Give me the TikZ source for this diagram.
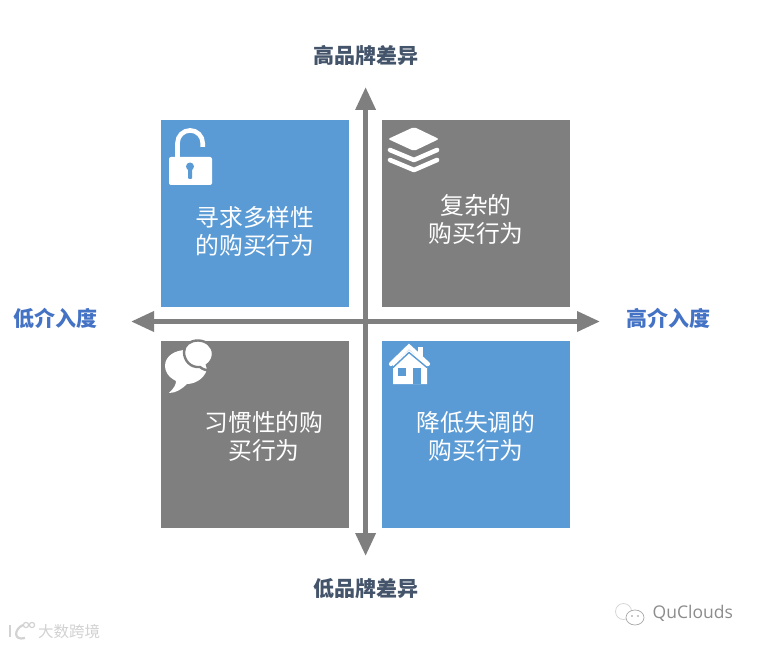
\documentclass[tikz,border=0pt]{standalone}
\usepackage{fontspec}
\setmainfont{Noto Sans CJK SC}
\newfontfamily\latinlight{Open Sans}
\usetikzlibrary{arrows.meta}
\definecolor{qblue}{HTML}{5B9BD5}
\definecolor{qgray}{HTML}{7F7F7F}
\definecolor{qslate}{HTML}{44546A}
\definecolor{qside}{HTML}{4472C4}
\definecolor{qmark}{HTML}{D2D2D2}
\tikzset{
  x=1pt,y=-1pt,
  panel/.style={minimum width=188pt,minimum height=187pt,inner sep=0pt,outer sep=0pt,anchor=north west},
  panelblue/.style={panel,fill=qblue},
  panelgray/.style={panel,fill=qgray},
  paneltext/.style={text=white,font=\fontsize{23.8}{28}\selectfont,align=center,inner sep=0pt},
  axislabel/.style={font=\fontsize{21}{24}\selectfont\bfseries,inner sep=0pt},
  axisline/.style={draw=qgray,line width=5pt,{Triangle[length=23pt,width=19.5pt]}-{Triangle[length=23pt,width=19.5pt]}},
}
\begin{document}
\begin{tikzpicture}
\useasboundingbox (0,0) rectangle (757,647);
\fill[white] (0,0) rectangle (757,647);
% panels
\node[panelblue] (tl) at (161,120) {};
\node[panelgray] (tr) at (382,120) {};
\node[panelgray] (bl) at (161,341) {};
\node[panelblue] (br) at (382,341) {};
% axes
\coordinate (ntop) at (365.6,87);
\coordinate (nbot) at (365.6,556);
\coordinate (nleft) at (131,321.5);
\coordinate (nright) at (600,321.5);
\draw[axisline] (nleft) -- (nright);
\draw[axisline] (ntop) -- (nbot);
% panel text
\node[paneltext] (ttl) at (255,231) {寻求多样性\\的购买行为};
\node[paneltext] (ttr) at (476,219) {复杂的\\购买行为};
\node[paneltext] (tbl) at (264,436) {习惯性的购\\买行为};
\node[paneltext] (tbr) at (476,436) {降低失调的\\购买行为};
% axis labels
\node[axislabel,text=qslate] (ltop) at (365.5,55) {高品牌差异};
\node[axislabel,text=qslate] (lbot) at (365.5,589) {低品牌差异};
\node[axislabel,text=qside] (lleft) at (55,318) {低介入度};
\node[axislabel,text=qside] (lright) at (668,318) {高介入度};
% lock
\draw[white,line width=4.6pt] (177.5,158) -- (177.5,143) arc[start angle=180,end angle=360,radius=12.6] -- (202.7,147);
\fill[white,rounded corners=2pt] (169,157) rectangle (212,185);
\fill[qblue] (190,166.5) circle (4);
\fill[qblue,rounded corners=1pt] (188,167) rectangle (192,179);
% layers
\fill[white,rounded corners=2pt] (388,139) -- (414,127) -- (439,139) -- (414,151) -- cycle;
\draw[white,line width=4.6pt,line cap=round,line join=round] (390,150) -- (414,160) -- (437,150);
\draw[white,line width=4.6pt,line cap=round,line join=round] (390,160) -- (414,170) -- (437,160);
% speech bubbles
\fill[white] (169,393) .. controls (174,388) and (176,385) .. (176,381) .. controls (168,377) and (165,371) .. (165,366) .. controls (165,356) and (175,350) .. (186,350) .. controls (199,350) and (207,358) .. (207,367) .. controls (207,376) and (197,384) .. (187,384) .. controls (182,389) and (176,393) .. (169,393) -- cycle;
\draw[qgray,line width=2.4pt,fill=white] (184,352) .. controls (184,345) and (190,340.5) .. (198,340.5) .. controls (206,340.5) and (213,346) .. (213,354) .. controls (213,359) and (210,363) .. (207,365) .. controls (207,367) and (208,369) .. (211,370.5) .. controls (206,370.5) and (202,369) .. (200,367) .. controls (190,368) and (184,360) .. (184,352) -- cycle;
% house
\fill[white] (393,364) -- (409,350) -- (427,364) -- (427,384) -- (393,384) -- cycle;
\fill[white] (418,347) rectangle (423,358);
\draw[qblue,line width=1.4pt] (393,367.5) -- (409,352.5) -- (427,367.5);
\draw[white,line width=4.2pt,line cap=round,line join=miter] (391,364) -- (409,346.5) -- (428,364);
\fill[qblue] (398,368) rectangle (406,376);
\fill[qblue] (413,368) rectangle (421,384);
% watermarks
\node[font=\fontsize{15.5}{18}\selectfont,text=qmark,inner sep=0pt,anchor=west] (wa) at (38,632) {大数跨境};
\draw[qmark,line width=2.2pt] (10,625) -- (10,637);
\draw[qmark,line width=2.2pt] (23,625) .. controls (14,629) and (13,641) .. (25,638);
\draw[qmark,line width=1.2pt] (26,625) circle (2.6) (32,625) circle (2.6);
\node[font=\latinlight\fontsize{17.5}{20}\selectfont,text=black!45,inner sep=0pt,anchor=west] (wb) at (652.5,613) {QuClouds};
\draw[qmark,line width=.7pt] (623.5,611.5) circle (8);
\draw[qmark!80!black,line width=.7pt,fill=white] (635,617.5) circle (9 and 7.5);
\fill[qmark!70!black] (632,616) circle (.8) (638,616) circle (.8);
\end{tikzpicture}
\end{document}
